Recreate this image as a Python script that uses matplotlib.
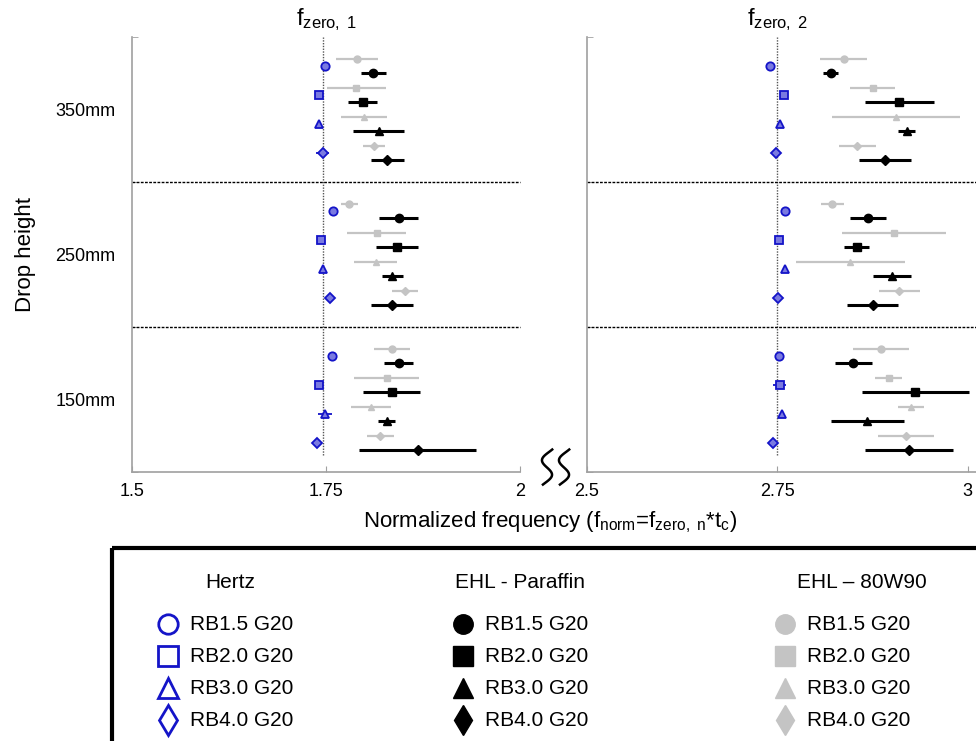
import numpy as np
import matplotlib
matplotlib.use("Agg")
import matplotlib.pyplot as plt
from matplotlib.patches import Rectangle

plt.rcParams['font.family'] = ['Liberation Sans', 'DejaVu Sans']
plt.rcParams['mathtext.fontset'] = 'custom'
plt.rcParams['mathtext.rm'] = 'Liberation Sans'
plt.rcParams['mathtext.it'] = 'Liberation Sans'

# --- DATA ---
heights = ["350mm", "250mm", "150mm"]
rb_types = ["RB1.5 G20", "RB2.0 G20", "RB3.0 G20", "RB4.0 G20"]
groups = ["Hertz", "EHL - Paraffin", "EHL \u2013 80W90"]

# f_zero,1 : rows = drop height, cols = RB type
f1_hertz = [[1.7485, 1.741, 1.7405, 1.7455],
            [1.7585, 1.7435, 1.7455, 1.7555],
            [1.7575, 1.741, 1.7485, 1.738]]
f1_hertz_err = [[0.002, 0.002, 0.002, 0.008],
                [0.002, 0.002, 0.002, 0.002],
                [0.002, 0.002, 0.009, 0.002]]
f1_paraffin = [[1.811, 1.797, 1.818, 1.829],
               [1.8435, 1.8415, 1.8355, 1.8345],
               [1.8435, 1.8345, 1.828, 1.868]]
f1_paraffin_err = [[0.016, 0.019, 0.033, 0.021],
                   [0.025, 0.027, 0.014, 0.027],
                   [0.019, 0.037, 0.011, 0.075]]
f1_w90 = [[1.790, 1.789, 1.799, 1.812],
          [1.780, 1.815, 1.814, 1.8515],
          [1.8345, 1.828, 1.808, 1.820]]
f1_w90_err = [[0.027, 0.038, 0.030, 0.014],
              [0.011, 0.038, 0.028, 0.017],
              [0.023, 0.042, 0.026, 0.017]]

# f_zero,2
f2_hertz = [[2.740, 2.759, 2.754, 2.748],
            [2.760, 2.752, 2.760, 2.751],
            [2.752, 2.753, 2.756, 2.744]]
f2_hertz_err = [[0.002, 0.002, 0.002, 0.002],
                [0.002, 0.002, 0.002, 0.002],
                [0.002, 0.008, 0.002, 0.006]]
f2_paraffin = [[2.820, 2.910, 2.920, 2.891],
               [2.869, 2.854, 2.901, 2.875],
               [2.850, 2.931, 2.868, 2.923]]
f2_paraffin_err = [[0.010, 0.045, 0.011, 0.034],
                   [0.024, 0.017, 0.025, 0.034],
                   [0.024, 0.070, 0.048, 0.058]]
f2_w90 = [[2.837, 2.875, 2.906, 2.855],
          [2.822, 2.903, 2.846, 2.910],
          [2.886, 2.896, 2.925, 2.919]]
f2_w90_err = [[0.031, 0.029, 0.084, 0.024],
              [0.015, 0.068, 0.072, 0.027],
              [0.037, 0.018, 0.017, 0.037]]

hertz_ref = [1.746, 2.75]   # dotted reference lines
xlims = [(1.5, 2.0), (2.5, 3.016)]
xticks = [[1.5, 1.75, 2.0], [2.5, 2.75, 3.0]]
xticklabels = [["1.5", "1.75", "2"], ["2.5", "2.75", "3"]]

# --- STYLE ---
markers = ["o", "s", "^", "D"]
BLUE = "#1414c8"
GRAY = "#c4c4c4"
SPINE = "#a0a0a0"

W, H = 976, 741
fig = plt.figure(figsize=(W / 100, H / 100), dpi=100)


def fx(px):
    return px / W


def fy(py):
    return 1 - py / H


ax1 = fig.add_axes([fx(132.3), fy(472), fx(520 - 132.3), (472 - 37) / H])
ax2 = fig.add_axes([fx(586.7), fy(472), fx(980 - 586.7), (472 - 37) / H])

panels = [
    (ax1, f1_hertz, f1_hertz_err, f1_paraffin, f1_paraffin_err, f1_w90, f1_w90_err),
    (ax2, f2_hertz, f2_hertz_err, f2_paraffin, f2_paraffin_err, f2_w90, f2_w90_err),
]

for p, (ax, hz, hz_e, pa, pa_e, w9, w9_e) in enumerate(panels):
    for g in range(len(heights)):
        top = len(heights) - g
        for k in range(len(rb_types)):
            m = markers[k]
            ms_scale = 0.8 if m == "D" else 1.0
            y_gray = top - (0.15 + 0.2 * k)
            y_blue = top - (0.20 + 0.2 * k)
            y_black = top - (0.25 + 0.2 * k)
            ax.errorbar(w9[g][k], y_gray, xerr=w9_e[g][k], fmt=m, color=GRAY,
                        ms=5 * ms_scale, lw=1.6, capsize=0, zorder=3)
            ax.errorbar(hz[g][k], y_blue, xerr=hz_e[g][k], fmt=m, color=BLUE,
                        mfc="#7a7ae0", mec=BLUE, mew=1.3, ms=6 * ms_scale,
                        lw=1.3, capsize=0, zorder=4)
            ax.errorbar(pa[g][k], y_black, xerr=pa_e[g][k], fmt=m, color="black",
                        ms=6 * ms_scale, lw=2.2, capsize=0, zorder=5)

    # separators between drop heights
    for yb in range(1, len(heights)):
        ax.axhline(yb, color="black", lw=1.0, ls=(0, (2, 1)), zorder=2,
                   clip_on=False)
    ax.plot([hertz_ref[p]] * 2, [0.12, 3.0], color="#555555", lw=1.0,
            ls=(0, (1, 1)), zorder=1)

    ax.set_xlim(*xlims[p])
    ax.set_ylim(0, len(heights))
    ax.set_xticks(xticks[p])
    ax.set_xticklabels(xticklabels[p], fontsize=13)
    ax.tick_params(axis="x", direction="in", length=4, color=SPINE, pad=8)
    ax.set_yticks(np.arange(len(heights)) + 0.5)
    ax.set_yticks(np.arange(len(heights) + 1), minor=True)
    ax.tick_params(axis="y", which="major", length=0, pad=12)
    ax.tick_params(axis="y", which="minor", direction="in", length=4, color=SPINE)
    if p == 0:
        ax.set_yticklabels(heights[::-1], fontsize=13)
    else:
        ax.set_yticklabels([])
    for s in ["top", "right"]:
        ax.spines[s].set_visible(False)
    for s in ["left", "bottom"]:
        ax.spines[s].set_color(SPINE)
        ax.spines[s].set_linewidth(1.2)
    ax.set_facecolor("none")
    ax.text(xticks[p][1], 1.01, r"$\mathregular{f_{zero,\ %d}}$" % (p + 1),
            transform=ax.get_xaxis_transform(), ha="center", va="bottom",
            fontsize=17)

# axis titles
fig.text(fx(25), fy(255), "Drop height", rotation=90, ha="center", va="center",
         fontsize=16)
fig.text(fx(550), fy(522), r"Normalized frequency (f$_{norm}$=f$_{zero,\ n}$*t$_c$)",
         ha="center", va="center", fontsize=16)

# axis break mark
t = np.linspace(-0.08, 1.05, 60)
for x0 in [547, 564]:
    xs = x0 - 6 * np.sin(2 * np.pi * t) + 4 * (0.5 - t)
    ys = 452 + 31 * t
    fig.add_artist(plt.Line2D(fx(xs), fy(ys), color="black", lw=1.8))

# --- LEGEND BOX ---
lax = fig.add_axes([0, 0, 1, fy(540)])
lax.set_xlim(0, W)
lax.set_ylim(H, 540)
lax.axis("off")
lax.add_patch(Rectangle((112, 548), 900, 240, fill=False, lw=3, ec="black",
                        clip_on=False))

head_x = [230, 520, 862]
mark_x = [168, 463, 785]
row_y = [624, 656, 688, 720]
for c, name in enumerate(groups):
    lax.text(head_x[c], 583, name, ha="center", va="center", fontsize=15)
    for k, lab in enumerate(rb_types):
        m = "d" if markers[k] == "D" else markers[k]
        ms = 15 if m == "d" else 14
        if c == 0:
            lax.plot(mark_x[c], row_y[k], m, ms=ms, mfc="none", mec=BLUE,
                     mew=2, clip_on=False)
        else:
            col = "black" if c == 1 else GRAY
            lax.plot(mark_x[c], row_y[k], m, ms=ms, color=col, clip_on=False)
        lax.text(mark_x[c] + 22, row_y[k], lab, ha="left", va="center",
                 fontsize=15)

fig.savefig("out.png", dpi=100)
